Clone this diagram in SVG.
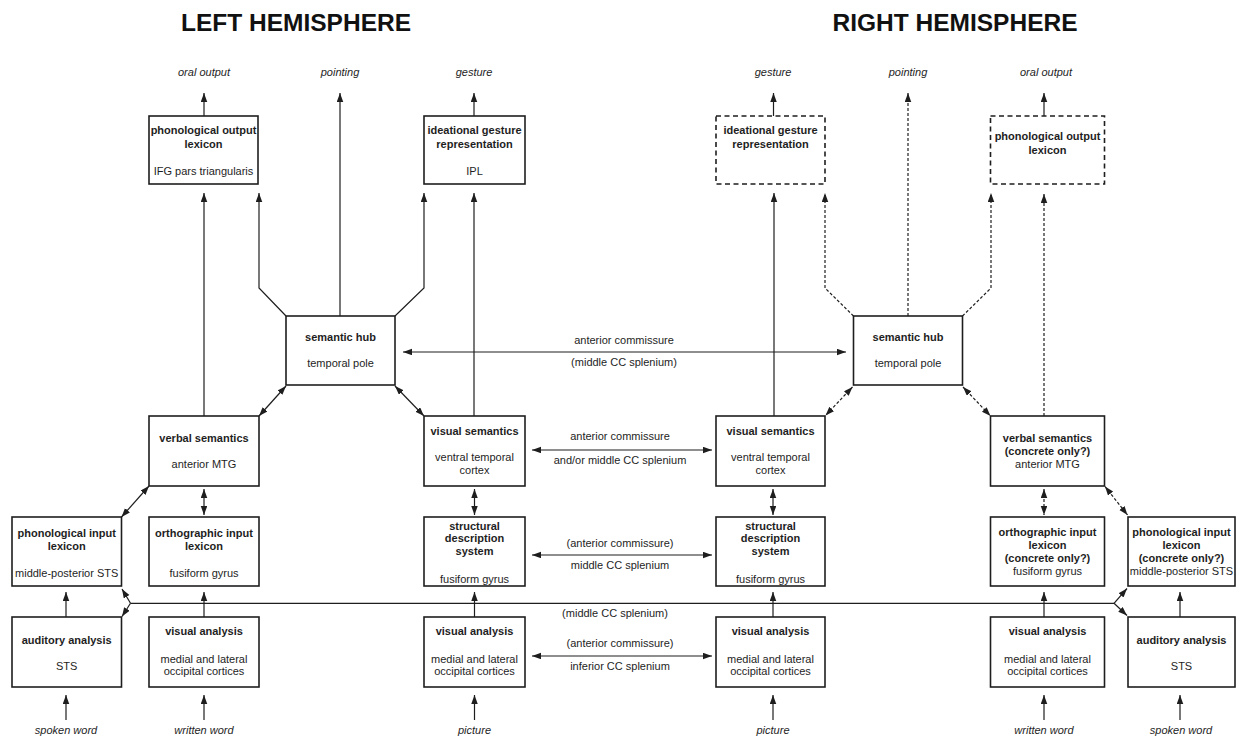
<svg xmlns="http://www.w3.org/2000/svg" width="1236" height="739" viewBox="0 0 1236 739">
<style>
.box{fill:#fff;stroke:#1e1e1e;stroke-width:1.6}
.dbox{fill:#fff;stroke:#1e1e1e;stroke-width:1.6;stroke-dasharray:5 3.5}
.ln{fill:none;stroke:#1e1e1e;stroke-width:1.2}
.dl{fill:none;stroke:#1e1e1e;stroke-width:1.2;stroke-dasharray:3 2}
text{font-family:"Liberation Sans",Arial,sans-serif;font-size:11px;text-anchor:middle;fill:#1e1e1e}
.b{font-weight:bold}
.i{font-style:italic}
.h{font-size:24.5px;font-weight:bold;fill:#111}
</style>
<defs>
<marker id="ah" markerUnits="userSpaceOnUse" markerWidth="10" markerHeight="8" refX="9" refY="3.25" orient="auto-start-reverse">
<path d="M0,0 L9,3.25 L0,6.5 z" fill="#1e1e1e"/>
</marker>
</defs>
<rect width="1236" height="739" fill="#fff"/>

<g id="titles">
<text class="h" x="296" y="31">LEFT HEMISPHERE</text>
<text class="h" x="955" y="31">RIGHT HEMISPHERE</text>
</g>

<g id="io-labels">
<text class="i" x="204" y="75.5">oral output</text>
<text class="i" x="340" y="75.5">pointing</text>
<text class="i" x="474" y="75.5">gesture</text>
<text class="i" x="773" y="75.5">gesture</text>
<text class="i" x="908" y="75.5">pointing</text>
<text class="i" x="1046" y="75.5">oral output</text>
<text class="i" x="66" y="734">spoken word</text>
<text class="i" x="204" y="734">written word</text>
<text class="i" x="474.5" y="734">picture</text>
<text class="i" x="773" y="734">picture</text>
<text class="i" x="1044" y="734">written word</text>
<text class="i" x="1181" y="734">spoken word</text>
</g>

<g id="connectors">
<!-- outputs -->
<path class="ln" d="M204,116 V93" marker-end="url(#ah)"/>
<path class="ln" d="M340,316 V93" marker-end="url(#ah)"/>
<path class="ln" d="M474,116 V93" marker-end="url(#ah)"/>
<path class="ln" d="M773.5,116 V93" marker-end="url(#ah)"/>
<path class="dl" d="M908,316 V93" marker-end="url(#ah)"/>
<path class="ln" d="M1044,116 V93" marker-end="url(#ah)"/>
<!-- left upper -->
<path class="ln" d="M204,416 V193" marker-end="url(#ah)"/>
<path class="ln" d="M286,316 L259,288 V193" marker-end="url(#ah)"/>
<path class="ln" d="M395,316 L424,288 V193" marker-end="url(#ah)"/>
<path class="ln" d="M474,416 V193" marker-end="url(#ah)"/>
<path class="ln" d="M286,386 L259,416" marker-start="url(#ah)" marker-end="url(#ah)"/>
<path class="ln" d="M395,386 L424,416" marker-start="url(#ah)" marker-end="url(#ah)"/>
<!-- right upper -->
<path class="ln" d="M774,416 V193" marker-end="url(#ah)"/>
<path class="dl" d="M853.5,316 L825,288 V193" marker-end="url(#ah)"/>
<path class="dl" d="M962.5,316 L991,288 V193" marker-end="url(#ah)"/>
<path class="dl" d="M1044,416 V194" marker-end="url(#ah)"/>
<path class="dl" d="M852.5,387 L825.5,415.5" marker-start="url(#ah)" marker-end="url(#ah)"/>
<path class="dl" d="M963,387 L990.5,416" marker-start="url(#ah)" marker-end="url(#ah)"/>
<!-- commissures -->
<path class="ln" d="M403,352 H846" marker-start="url(#ah)" marker-end="url(#ah)"/>
<text x="624" y="343.5">anterior commissure</text>
<text x="624" y="366">(middle CC splenium)</text>
<path class="ln" d="M532,450 H712" marker-start="url(#ah)" marker-end="url(#ah)"/>
<text x="620" y="439.5">anterior commissure</text>
<text x="620" y="463.5">and/or middle CC splenium</text>
<path class="ln" d="M532,555 H712" marker-start="url(#ah)" marker-end="url(#ah)"/>
<text x="620" y="546.5">(anterior commissure)</text>
<text x="620" y="568.5">middle CC splenium</text>
<path class="ln" d="M532,656 H712" marker-start="url(#ah)" marker-end="url(#ah)"/>
<text x="620" y="647">(anterior commissure)</text>
<text x="620" y="669.5">inferior CC splenium</text>
<path class="ln" d="M130.5,603.3 H1114"/>
<path class="ln" d="M130.5,603.3 L122,589" marker-end="url(#ah)"/>
<path class="ln" d="M130.5,603.3 L122,616.5" marker-end="url(#ah)"/>
<path class="ln" d="M1114,603.3 L1127,588.5" marker-end="url(#ah)"/>
<path class="ln" d="M1114,603.3 L1127,615.5" marker-end="url(#ah)"/>
<text x="615" y="617">(middle CC splenium)</text>
<!-- left lower -->
<path class="ln" d="M204,489 V515" marker-start="url(#ah)" marker-end="url(#ah)"/>
<path class="ln" d="M121.5,517 L149,486" marker-start="url(#ah)" marker-end="url(#ah)"/>
<path class="ln" d="M474.5,489 V515" marker-start="url(#ah)" marker-end="url(#ah)"/>
<path class="ln" d="M66,617 V592" marker-end="url(#ah)"/>
<path class="ln" d="M204,617 V592" marker-end="url(#ah)"/>
<path class="ln" d="M474.5,617 V592" marker-end="url(#ah)"/>
<!-- right lower -->
<path class="ln" d="M773,489 V515" marker-start="url(#ah)" marker-end="url(#ah)"/>
<path class="dl" d="M1044,489 V515" marker-start="url(#ah)" marker-end="url(#ah)"/>
<path class="dl" d="M1105,486.5 L1127.5,515" marker-start="url(#ah)" marker-end="url(#ah)"/>
<path class="ln" d="M773,617 V592" marker-end="url(#ah)"/>
<path class="ln" d="M1044,617 V592" marker-end="url(#ah)"/>
<path class="ln" d="M1180,617 V592" marker-end="url(#ah)"/>
<!-- inputs -->
<path class="ln" d="M66,720 V695" marker-end="url(#ah)"/>
<path class="ln" d="M204,720 V695" marker-end="url(#ah)"/>
<path class="ln" d="M474.5,720 V695" marker-end="url(#ah)"/>
<path class="ln" d="M773,720 V695" marker-end="url(#ah)"/>
<path class="ln" d="M1044,720 V695" marker-end="url(#ah)"/>
<path class="ln" d="M1180,720 V695" marker-end="url(#ah)"/>
</g>

<!-- LEFT HEMISPHERE NODES -->
<g id="L-phon-output">
<rect class="box" x="149" y="116" width="109" height="68"/>
<text class="b" x="203.5" y="134">phonological output</text>
<text class="b" x="203.5" y="147.5">lexicon</text>
<text x="203.5" y="175">IFG pars triangularis</text>
</g>
<g id="L-ideational">
<rect class="box" x="424" y="116" width="101" height="68"/>
<text class="b" x="474.5" y="134">ideational gesture</text>
<text class="b" x="474.5" y="147.5">representation</text>
<text x="474.5" y="175">IPL</text>
</g>
<g id="L-hub">
<rect class="box" x="286" y="316" width="109" height="69"/>
<text class="b" x="340.5" y="341">semantic hub</text>
<text x="340.5" y="367">temporal pole</text>
</g>
<g id="L-verbal">
<rect class="box" x="149" y="416" width="110" height="70"/>
<text class="b" x="204" y="441.5">verbal semantics</text>
<text x="204" y="468">anterior MTG</text>
</g>
<g id="L-visual-sem">
<rect class="box" x="424" y="416" width="101" height="70"/>
<text class="b" x="474.5" y="434.5">visual semantics</text>
<text x="474.5" y="461">ventral temporal</text>
<text x="474.5" y="474">cortex</text>
</g>
<g id="L-phon-input">
<rect class="box" x="12" y="517" width="109.5" height="69"/>
<text class="b" x="66.7" y="536.5">phonological input</text>
<text class="b" x="66.7" y="549.5">lexicon</text>
<text x="66.7" y="576.5">middle-posterior STS</text>
</g>
<g id="L-ortho-input">
<rect class="box" x="149" y="517" width="110" height="69"/>
<text class="b" x="204" y="536.5">orthographic input</text>
<text class="b" x="204" y="549.5">lexicon</text>
<text x="204" y="576.5">fusiform gyrus</text>
</g>
<g id="L-structural">
<rect class="box" x="424" y="517" width="101" height="69"/>
<text class="b" x="474.5" y="529.5">structural</text>
<text class="b" x="474.5" y="542">description</text>
<text class="b" x="474.5" y="555">system</text>
<text x="474.5" y="582.5">fusiform gyrus</text>
</g>
<g id="L-auditory">
<rect class="box" x="12" y="617" width="109.5" height="70"/>
<text class="b" x="66.7" y="643.5">auditory analysis</text>
<text x="66.7" y="670">STS</text>
</g>
<g id="L-visual-analysis-word">
<rect class="box" x="149" y="617" width="110" height="70"/>
<text class="b" x="204" y="635">visual analysis</text>
<text x="204" y="662.5">medial and lateral</text>
<text x="204" y="675">occipital cortices</text>
</g>
<g id="L-visual-analysis-picture">
<rect class="box" x="424" y="617" width="101" height="70"/>
<text class="b" x="474.5" y="635">visual analysis</text>
<text x="474.5" y="662.5">medial and lateral</text>
<text x="474.5" y="675">occipital cortices</text>
</g>

<!-- RIGHT HEMISPHERE NODES -->
<g id="R-ideational">
<rect class="dbox" x="716" y="116" width="109" height="68"/>
<text class="b" x="770.5" y="134">ideational gesture</text>
<text class="b" x="770.5" y="147.5">representation</text>
</g>
<g id="R-phon-output">
<rect class="dbox" x="990.5" y="116" width="114" height="68"/>
<text class="b" x="1047.5" y="140">phonological output</text>
<text class="b" x="1047.5" y="153.5">lexicon</text>
</g>
<g id="R-hub">
<rect class="box" x="853.5" y="316" width="109" height="69"/>
<text class="b" x="908" y="341">semantic hub</text>
<text x="908" y="367">temporal pole</text>
</g>
<g id="R-visual-sem">
<rect class="box" x="716" y="416" width="109" height="70"/>
<text class="b" x="770.5" y="434.5">visual semantics</text>
<text x="770.5" y="461">ventral temporal</text>
<text x="770.5" y="474">cortex</text>
</g>
<g id="R-verbal">
<rect class="box" x="990.5" y="416" width="114" height="70"/>
<text class="b" x="1047.5" y="441.5">verbal semantics</text>
<text class="b" x="1047.5" y="455">(concrete only?)</text>
<text x="1047.5" y="468">anterior MTG</text>
</g>
<g id="R-structural">
<rect class="box" x="716" y="517" width="109" height="69"/>
<text class="b" x="770.5" y="529.5">structural</text>
<text class="b" x="770.5" y="542">description</text>
<text class="b" x="770.5" y="555">system</text>
<text x="770.5" y="582.5">fusiform gyrus</text>
</g>
<g id="R-ortho-input">
<rect class="box" x="990.5" y="517" width="114" height="69"/>
<text class="b" x="1047.5" y="535.5">orthographic input</text>
<text class="b" x="1047.5" y="548.5">lexicon</text>
<text class="b" x="1047.5" y="562">(concrete only?)</text>
<text x="1047.5" y="575">fusiform gyrus</text>
</g>
<g id="R-phon-input">
<rect class="box" x="1128" y="517" width="107" height="69"/>
<text class="b" x="1181.5" y="535.5">phonological input</text>
<text class="b" x="1181.5" y="548.5">lexicon</text>
<text class="b" x="1181.5" y="562">(concrete only?)</text>
<text x="1181.5" y="575">middle-posterior STS</text>
</g>
<g id="R-visual-analysis-picture">
<rect class="box" x="716" y="617" width="109" height="70"/>
<text class="b" x="770.5" y="635">visual analysis</text>
<text x="770.5" y="662.5">medial and lateral</text>
<text x="770.5" y="675">occipital cortices</text>
</g>
<g id="R-visual-analysis-word">
<rect class="box" x="990.5" y="617" width="114" height="70"/>
<text class="b" x="1047.5" y="635">visual analysis</text>
<text x="1047.5" y="662.5">medial and lateral</text>
<text x="1047.5" y="675">occipital cortices</text>
</g>
<g id="R-auditory">
<rect class="box" x="1128" y="617" width="107" height="70"/>
<text class="b" x="1181.5" y="643.5">auditory analysis</text>
<text x="1181.5" y="670">STS</text>
</g>
</svg>
